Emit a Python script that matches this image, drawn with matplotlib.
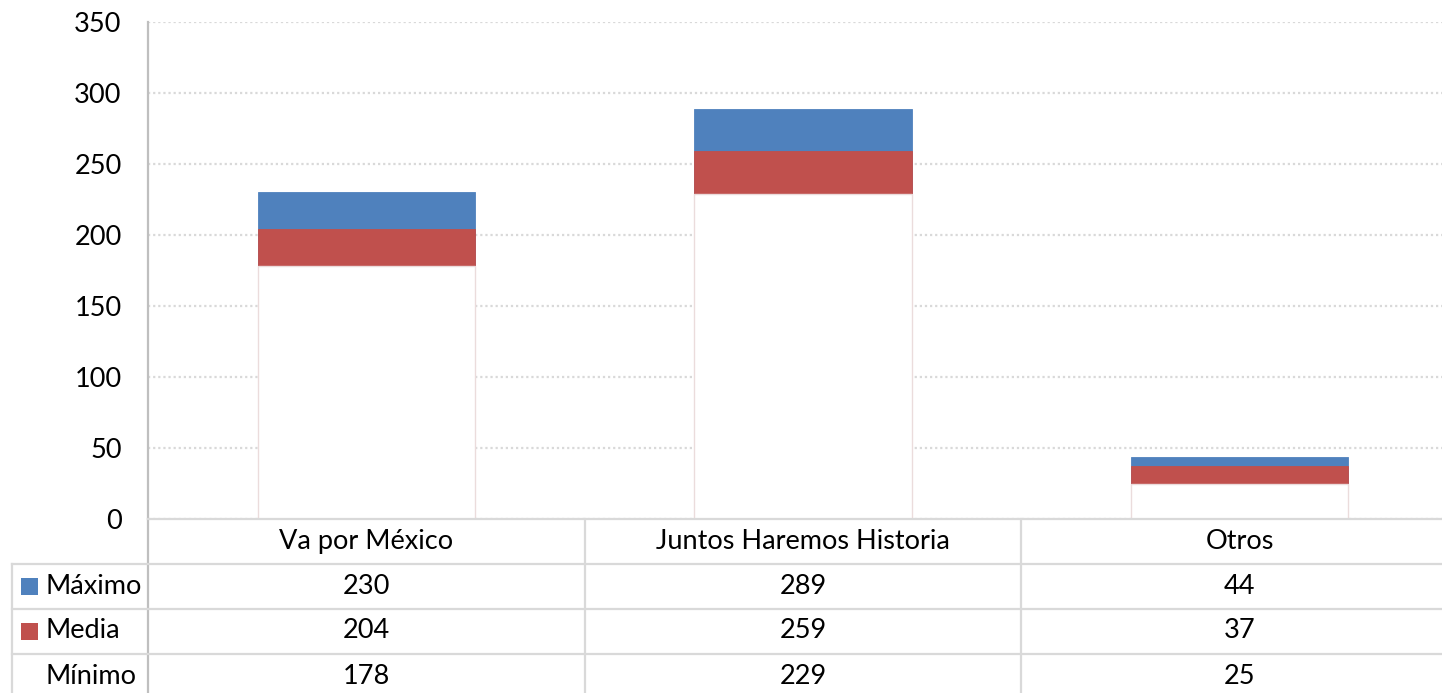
import matplotlib
matplotlib.use("Agg")
import matplotlib.pyplot as plt
from matplotlib.lines import Line2D
from matplotlib.patches import Rectangle
import matplotlib.transforms as mtransforms

categories = ["Va por México", "Juntos Haremos Historia", "Otros"]
series_names = ["Máximo", "Media", "Mínimo"]
maximo = [230, 289, 44]
media = [204, 259, 37]
minimo = [178, 229, 25]
yticks = [0, 50, 100, 150, 200, 250, 300, 350]

BLUE = "#4F81BD"
RED = "#C0504D"
GRID = "#D9D9D9"
AXIS = "#BFBFBF"

plt.rcParams['font.family'] = ['Lato', 'DejaVu Sans']
FS = 19.5

W, H = 1442, 693
fig = plt.figure(figsize=(W / 100, H / 100), dpi=100)


def fy(py):
    return 1 - py / H


def fx(px):
    return px / W


ax = fig.add_axes([fx(148), fy(519), fx(1458 - 148), (519 - 22) / H])
ax.set_xlim(0, 3)
ax.set_ylim(0, 350)
ax.set_yticks(yticks)
ax.set_yticklabels([str(v) for v in yticks], fontsize=FS)
ax.tick_params(axis='y', length=0, pad=19)
ax.set_xticks([])
for s in ['top', 'right', 'bottom']:
    ax.spines[s].set_visible(False)
ax.spines['left'].set_color(AXIS)
ax.spines['left'].set_linewidth(1.6)
ax.yaxis.grid(True, color=GRID, linestyle=(0, (1, 1.3)), linewidth=1.6)
ax.set_axisbelow(True)

xs = [i + 0.5 for i in range(len(categories))]
bw = 0.497
ax.bar(xs, maximo, width=bw, color=BLUE, edgecolor=BLUE, linewidth=0.6, zorder=2)
ax.bar(xs, media, width=bw, color=RED, edgecolor=RED, linewidth=0.6, zorder=3)
ax.bar(xs, minimo, width=bw, color="white", edgecolor="#EBDCDC", linewidth=1.0, zorder=4)

# Data table below
blend = mtransforms.blended_transform_factory(ax.transData, fig.transFigure)
row_lines = [519, 564, 608.5, 653.5]
lw_tab = 1.6

# axis line extending down through table
fig.add_artist(Line2D([fx(148), fx(148)], [fy(519), fy(700)], color=AXIS, lw=1.6,
                      transform=fig.transFigure))
# horizontal lines
fig.add_artist(Line2D([fx(148), fx(1460)], [fy(row_lines[0])] * 2, color=GRID, lw=lw_tab,
                      transform=fig.transFigure))
for ry in row_lines[1:]:
    fig.add_artist(Line2D([fx(12), fx(1460)], [fy(ry)] * 2, color=GRID, lw=lw_tab,
                          transform=fig.transFigure))
# left border of row label column
fig.add_artist(Line2D([fx(12), fx(12)], [fy(564), fy(700)], color=GRID, lw=lw_tab,
                      transform=fig.transFigure))
# column separators
for i in range(1, len(categories)):
    fig.add_artist(Line2D([i, i], [fy(519), fy(700)], color=GRID, lw=lw_tab,
                          transform=blend))

# category header
for x, c in zip(xs, categories):
    fig.text(x, fy(541.5), c, transform=blend, ha='center', va='center', fontsize=FS)

row_centers = [586, 631, 676]
values = [maximo, media, minimo]
colors = [BLUE, RED, None]
for rc, name, vals, col in zip(row_centers, series_names, values, colors):
    if col is not None:
        fig.add_artist(Rectangle((fx(21), fy(rc + 8.5)), 17 / W, 17 / H, facecolor=col,
                                 edgecolor='none', transform=fig.transFigure))
    fig.text(fx(45), fy(rc), name, ha='left', va='center', fontsize=FS)
    for x, v in zip(xs, vals):
        fig.text(x, fy(rc), str(v), transform=blend, ha='center', va='center', fontsize=FS)

fig.savefig("out.png", dpi=100, facecolor="white")
